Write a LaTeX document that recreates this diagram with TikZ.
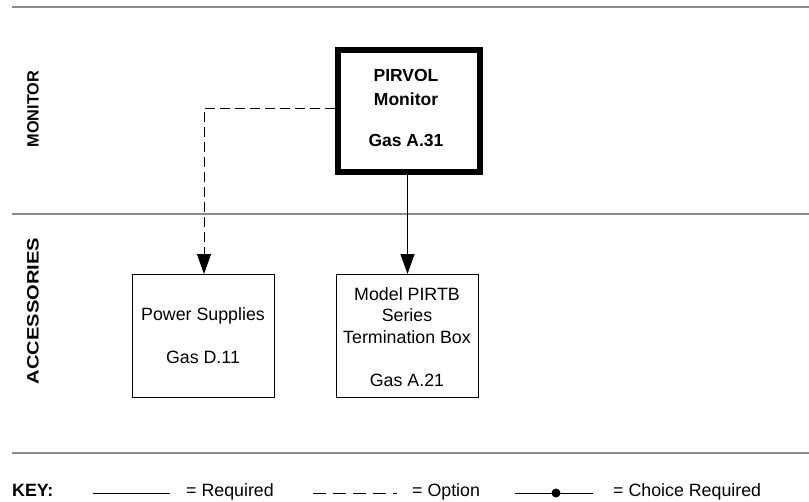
\documentclass[tikz,border=0pt]{standalone}
\usepackage{fontspec}
\setmainfont{Liberation Sans}
\usetikzlibrary{arrows.meta}
\begin{document}
\begin{tikzpicture}[x=1pt,y=-1pt,
  every node/.style={font=\fontsize{17.8}{21.5}\selectfont, inner sep=0pt},
  sepline/.style={draw=black!45, line width=1.3pt},
  boxnode/.style={draw=black, line width=1pt, minimum width=142pt, minimum height=123pt, anchor=north west},
  arr/.style={line width=1pt, -{Triangle[length=20pt,width=14pt]}},
  dashln/.style={dash pattern=on 10pt off 5pt},
  keydash/.style={dash pattern=on 13pt off 7pt}]
\useasboundingbox (0,0) rectangle (809,501);
% separator lines
\draw[sepline] (12,7) -- (809,7);
\draw[sepline] (12,214) -- (809,214);
\draw[sepline] (12,453) -- (809,453);
% lane labels
\node[rotate=90, font=\fontsize{16.3}{18}\selectfont\bfseries] (lmon) at (33,109) {MONITOR};
\node[rotate=90, font=\fontsize{16.5}{18}\selectfont\bfseries] (lacc) at (33,311) {\scalebox{1.22}[1]{ACCESSORIES}};
% monitor box
\node[draw=black, line width=6pt, minimum width=142pt, minimum height=122pt, anchor=north west] (mon) at (335,47) {};
\node[font=\fontsize{17.5}{24}\selectfont\bfseries, align=center] (montext) at (406,108) {PIRVOL\\Monitor\\[17pt]Gas A.31};
% accessory boxes
\node[boxnode] (ps) at (132,274) {};
\node[align=center] (pstext) at (203,336) {Power Supplies\\[21.5pt]Gas D.11};
\node[boxnode] (tb) at (336,274) {};
\node[align=center] (tbtext) at (407,337) {Model PIRTB\\Series\\Termination Box\\[21.5pt]Gas A.21};
% connectors
\coordinate (bend) at (204,108);
\draw[arr, dashln] (mon.west |- bend) -- (bend) -- (bend |- ps.north);
\draw[arr] (mon.south -| tb.north) -- (tb.north);
% key
\node[font=\fontsize{17.8}{20}\selectfont\bfseries, anchor=base west] (key) at (12,496) {KEY:};
\coordinate (k1a) at (93,493); \coordinate (k1b) at (170,493);
\draw[line width=1pt] (k1a) -- (k1b);
\node[anchor=base west] (kreq) at (186,496) {= Required};
\coordinate (k2a) at (313,493); \coordinate (k2b) at (397,493);
\draw[line width=1pt, keydash] (k2a) -- (k2b);
\node[anchor=base west] (kopt) at (412,496) {= Option};
\coordinate (k3a) at (515,493); \coordinate (k3b) at (593,493);
\draw[line width=1pt] (k3a) -- (k3b);
\fill (556,493) circle (4.5pt);
\node[anchor=base west] (kcho) at (613,496) {= Choice Required};
\end{tikzpicture}
\end{document}
